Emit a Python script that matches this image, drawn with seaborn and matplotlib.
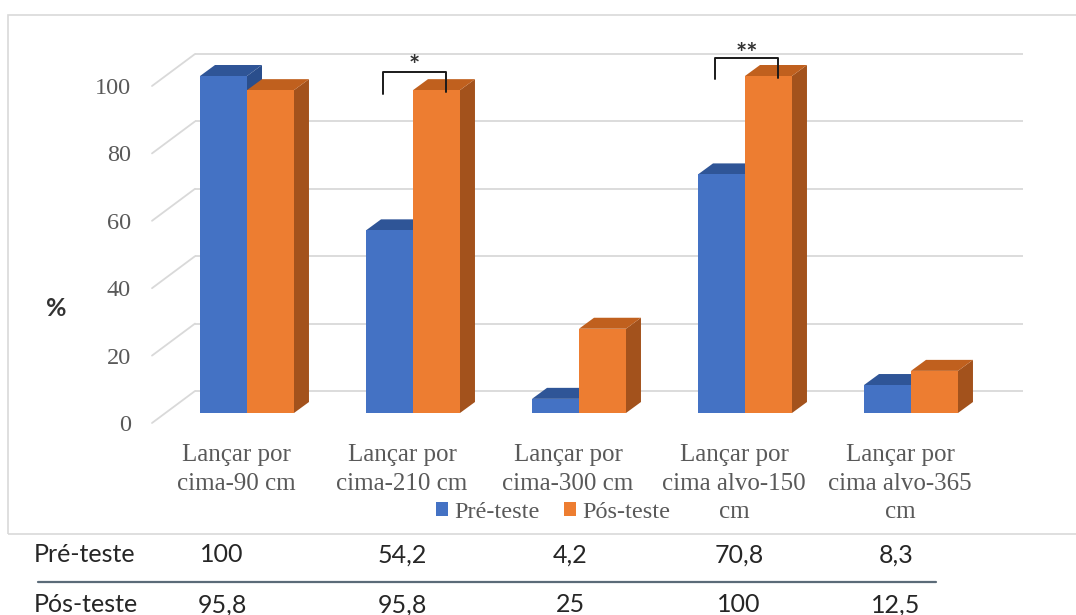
import matplotlib
matplotlib.use("Agg")
import matplotlib.pyplot as plt
import matplotlib.transforms as mtransforms
from matplotlib.patches import Polygon, Rectangle
from matplotlib.lines import Line2D
import pandas as pd
import seaborn as sns

# ---- data -------------------------------------------------------------
categories = [
    "Lançar por\ncima-90 cm",
    "Lançar por\ncima-210 cm",
    "Lançar por\ncima-300 cm",
    "Lançar por\ncima alvo-150\ncm",
    "Lançar por\ncima alvo-365\ncm",
]
series = ["Pré-teste", "Pós-teste"]
pre_values = [100, 54.2, 4.2, 70.8, 8.3]
post_values = [95.8, 95.8, 25, 100, 12.5]
y_ticks = [0, 20, 40, 60, 80, 100]
# significance brackets: category index -> marker
significance = {1: "*", 3: "**"}

# ---- style ------------------------------------------------------------
sns.set_style("white")
SERIF = ["Liberation Serif", "DejaVu Serif"]
SANS = ["Lato", "DejaVu Sans"]
GREY_TXT = "#595959"
GRID = "#d9d9d9"
front_colors = ["#4472C4", "#ED7D31"]
top_colors = ["#2F5597", "#C0601E"]
side_colors = ["#2A4E8C", "#A3521C"]

W, H = 1076, 615
fig = plt.figure(figsize=(W / 100, H / 100), dpi=100)

# plot area in pixels (front plane of the bars)
AX_L, AX_R = 164, 994        # x = -0.5 .. 4.5
AX_T, AX_B = 76, 413         # y = 100 .. 0
ax = fig.add_axes([AX_L / W, 1 - AX_B / H, (AX_R - AX_L) / W, (AX_B - AX_T) / H])

px_per_x = (AX_R - AX_L) / 5.0
px_per_y = (AX_B - AX_T) / 100.0


def px2x(px):
    return -0.5 + (px - AX_L) / px_per_x


def dpx_y(d):
    return d / px_per_y


def dpx_x(d):
    return d / px_per_x


df = pd.DataFrame({
    "categoria": categories * 2,
    "grupo": [series[0]] * len(categories) + [series[1]] * len(categories),
    "valor": pre_values + post_values,
})

sns.barplot(data=df, x="categoria", y="valor", hue="grupo",
            order=categories, hue_order=series, palette=front_colors,
            saturation=1, width=0.566, linewidth=0, errorbar=None, ax=ax)

ax.set_xlim(-0.5, 4.5)
ax.set_ylim(0, 100)
for s in ax.spines.values():
    s.set_visible(False)
ax.set_xlabel("")
ax.set_ylabel("")

# ---- back wall and side wall gridlines --------------------------------
back_dy = dpx_y(22)
for v in y_ticks:
    ax.plot([px2x(195), px2x(1023)], [v + back_dy, v + back_dy],
            color=GRID, lw=1.3, zorder=0.5, clip_on=False,
            solid_capstyle="butt")
    ax.plot([px2x(152), px2x(195)], [v - dpx_y(10), v + back_dy],
            color=GRID, lw=1.3, zorder=0.5, clip_on=False)

# ---- depth faces of the bars ------------------------------------------
ddx, ddy = dpx_x(15), dpx_y(11)
for k, cont in enumerate(ax.containers):
    for bar in cont:
        bar.set_zorder(2 + k)
        bar.set_clip_on(False)
        x0, w, h = bar.get_x(), bar.get_width(), bar.get_height()
        x1 = x0 + w
        top = Polygon([(x0, h), (x1, h), (x1 + ddx, h + ddy), (x0 + ddx, h + ddy)],
                      closed=True, facecolor=top_colors[k], edgecolor="none",
                      zorder=2 + k - 0.1, clip_on=False)
        side = Polygon([(x1, 0), (x1, h), (x1 + ddx, h + ddy), (x1 + ddx, ddy)],
                       closed=True, facecolor=side_colors[k], edgecolor="none",
                       zorder=2 + k - 0.1, clip_on=False)
        ax.add_patch(side)
        ax.add_patch(top)

# ---- significance brackets --------------------------------------------
half = 0.566 / 4
text_gap = {1: -1.6, 3: -2.3}
for i, mark in significance.items():
    ref = post_values[i]
    top_y = ref + 5.3
    xl = i - half - dpx_x(7)
    xr = i + half + dpx_x(10)
    ax.plot([xl, xl, xr, xr], [ref - 1.0, top_y, top_y, ref - 0.5],
            color="#1a1a1a", lw=1.4, clip_on=False, zorder=6)
    ax.text((xl + xr) / 2, top_y + text_gap[i], mark, ha="center", va="bottom",
            fontsize=19, fontweight="bold", color="#333333",
            family=SANS, zorder=6)

# ---- axis ticks ---------------------------------------------------------
ax.set_yticks(y_ticks)
ax.set_yticklabels([str(v) for v in y_ticks])
ax.tick_params(axis="y", length=0, pad=24, labelsize=17.5, labelcolor=GREY_TXT)
ax.set_xticks(range(len(categories)))
ax.set_xticklabels(categories)
ax.tick_params(axis="x", length=0, pad=22, labelsize=18, labelcolor=GREY_TXT)
for lbl in ax.get_yticklabels():
    lbl.set_family(SERIF)
    lbl.set_transform(lbl.get_transform() +
                      mtransforms.ScaledTranslation(0, -10 / 100, fig.dpi_scale_trans))
for lbl in ax.get_xticklabels():
    lbl.set_family(SERIF)
    lbl.set_multialignment("center")
    lbl.set_linespacing(1.41)
    lbl.set_transform(lbl.get_transform() +
                      mtransforms.ScaledTranslation(-11 / 100, 0, fig.dpi_scale_trans))

# ---- legend -------------------------------------------------------------
sns.move_legend(ax, "center", bbox_to_anchor=(553 / W, 1 - 512 / H),
                bbox_transform=fig.transFigure, ncol=2, frameon=False,
                title=None, handlelength=0.5, handleheight=0.5,
                handletextpad=0.25, columnspacing=1.0, borderpad=0,
                prop={"family": SERIF, "size": 17.5}, labelcolor=GREY_TXT)

# ---- axis unit ----------------------------------------------------------
fig.text(56 / W, 1 - 308 / H, "%", ha="center", va="center", fontsize=18,
         fontweight="bold", color="#333333", family=SANS)

# ---- chart frame --------------------------------------------------------
fig.add_artist(Rectangle((8 / W, 1 - 534 / H), 1.2, (534 - 15) / H,
                         transform=fig.transFigure, fill=False,
                         edgecolor=GRID, lw=1.2))

# ---- data table below the chart -----------------------------------------
col_px = [222, 402, 570, 739, 896]


def fmt(v):
    return f"{v:g}".replace(".", ",")


rows = [(series[0], pre_values, 555), (series[1], post_values, 605)]
for name, vals, ypx in rows:
    fig.text(34 / W, 1 - ypx / H, name, ha="left", va="center",
             fontsize=18, color="#262626", family=SANS)
    for cx, v in zip(col_px, vals):
        fig.text(cx / W, 1 - ypx / H, fmt(v), ha="center", va="center",
                 fontsize=18, color="#262626", family=SANS)

fig.add_artist(Line2D([38 / W, 936 / W], [1 - 582 / H] * 2,
                      transform=fig.transFigure, color="#5b6b78", lw=1.6))

fig.savefig("out.png", dpi=100)
